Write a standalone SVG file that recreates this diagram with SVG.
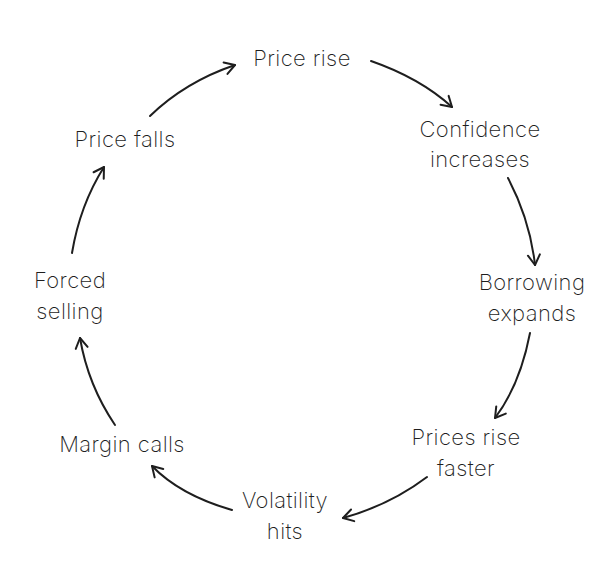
<svg xmlns="http://www.w3.org/2000/svg" width="609" height="587" viewBox="0 0 609 587">
<style>
text{font-family:Inter,"Noto Sans",sans-serif;font-size:22px;font-weight:250;fill:#1e1e1e;text-anchor:middle;letter-spacing:0.4px}
.c{fill:none;stroke:#1e1e1e;stroke-width:2;stroke-linecap:round;marker-end:url(#a)}
</style>
<defs>
<marker id="a" markerUnits="userSpaceOnUse" markerWidth="24" markerHeight="24" viewBox="-12 -12 24 24" refX="0" refY="0" orient="auto">
<path d="M-10,-6 L0,0 L-10,6" fill="none" stroke="#1e1e1e" stroke-width="2" stroke-linecap="round" stroke-linejoin="round"/>
</marker>
</defs>
<rect width="609" height="587" fill="#fff"/>
<g id="connectors">
<path class="c" d="M150,116 Q185,82 235,65"/>
<path class="c" d="M371,61 Q420,78 452,107"/>
<path class="c" d="M508,178 Q530,220 535,265"/>
<path class="c" d="M530,333 Q520,385 495,418"/>
<path class="c" d="M427,477 Q390,505 343,518"/>
<path class="c" d="M232,510 Q180,495 152,466"/>
<path class="c" d="M115,425 Q88,385 80,338"/>
<path class="c" d="M72,253 Q80,205 104,167"/>
</g>
<g id="n1"><text x="302" y="66">Price rise</text></g>
<g id="n2"><text x="480" y="137">Confidence</text><text x="480" y="167">increases</text></g>
<g id="n3"><text x="532" y="290">Borrowing</text><text x="532" y="321">expands</text></g>
<g id="n4"><text x="466" y="445">Prices rise</text><text x="466" y="476">faster</text></g>
<g id="n5"><text x="285" y="508">Volatility</text><text x="285" y="539">hits</text></g>
<g id="n6"><text x="122" y="452">Margin calls</text></g>
<g id="n7"><text x="70" y="288">Forced</text><text x="70" y="319">selling</text></g>
<g id="n8"><text x="125" y="147">Price falls</text></g>
</svg>
